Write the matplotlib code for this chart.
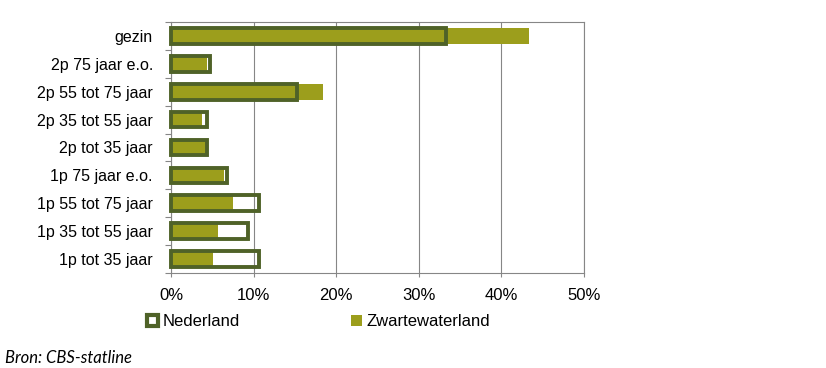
import matplotlib
matplotlib.use('Agg')
import matplotlib.pyplot as plt
from matplotlib.patches import Rectangle
from matplotlib.ticker import FuncFormatter

categories = ['gezin', '2p 75 jaar e.o.', '2p 55 tot 75 jaar', '2p 35 tot 55 jaar',
              '2p tot 35 jaar', '1p 75 jaar e.o.', '1p 55 tot 75 jaar',
              '1p 35 tot 55 jaar', '1p tot 35 jaar']
nederland = [33.3, 4.7, 15.3, 4.4, 4.4, 6.8, 10.6, 9.3, 10.7]
zwartewaterland = [43.3, 4.3, 18.4, 3.7, 4.2, 6.4, 7.5, 5.7, 5.1]

dark = '#4f6228'
olive = '#9c9e1c'
grey = '#868686'

plt.rcParams['font.family'] = ['Liberation Sans', 'DejaVu Sans']

fig = plt.figure(figsize=(8.26, 3.68), dpi=100)
ax = fig.add_axes([171/826, 1-273/368, 413/826, 251/368])

y = list(range(len(categories)))
ax.barh(y, zwartewaterland, height=0.58, color=olive, zorder=2)
ax.barh(y, nederland, height=0.56, facecolor='none', edgecolor=dark,
        linewidth=2.8, zorder=3, clip_on=False)

ax.set_xlim(0, 50)
ax.set_ylim(len(categories)-0.5, -0.5)
ax.set_xticks(range(0, 51, 10))
ax.xaxis.set_major_formatter(FuncFormatter(lambda v, p: f'{v:.0f}%'))
ax.set_yticks(y)
ax.set_yticklabels(categories)
ax.set_yticks([i-0.5 for i in range(len(categories)+1)], minor=True)

ax.tick_params(axis='y', which='major', length=0, pad=13, labelsize=11.5)
ax.tick_params(axis='y', which='minor', length=4.5, width=0.8, color=grey, direction='out')
ax.tick_params(axis='x', length=3, width=0.8, color=grey, pad=8, labelsize=12)

ax.grid(axis='x', color=grey, linewidth=0.8, zorder=0)
ax.set_axisbelow(True)
for s in ax.spines.values():
    s.set_color(grey)
    s.set_linewidth(0.8)

h_nl = Rectangle((0, 0), 1, 1, facecolor='white', edgecolor=dark, linewidth=3)
h_zw = Rectangle((0, 0), 1, 1, facecolor=olive, edgecolor='none')
fig.legend([h_nl, h_zw], ['Nederland', 'Zwartewaterland'], ncol=2,
           loc='center left', bbox_to_anchor=(147/826, 1-322/368),
           frameon=False, fontsize=12, handlelength=0.65, handleheight=0.6,
           handletextpad=0.3, columnspacing=6.65, borderpad=0, borderaxespad=0)

fig.text(5/826, 1-358/368, 'Bron: CBS-statline', family='Lato', style='italic',
         fontsize=12, va='center', ha='left')

fig.savefig('out.png', dpi=100)
